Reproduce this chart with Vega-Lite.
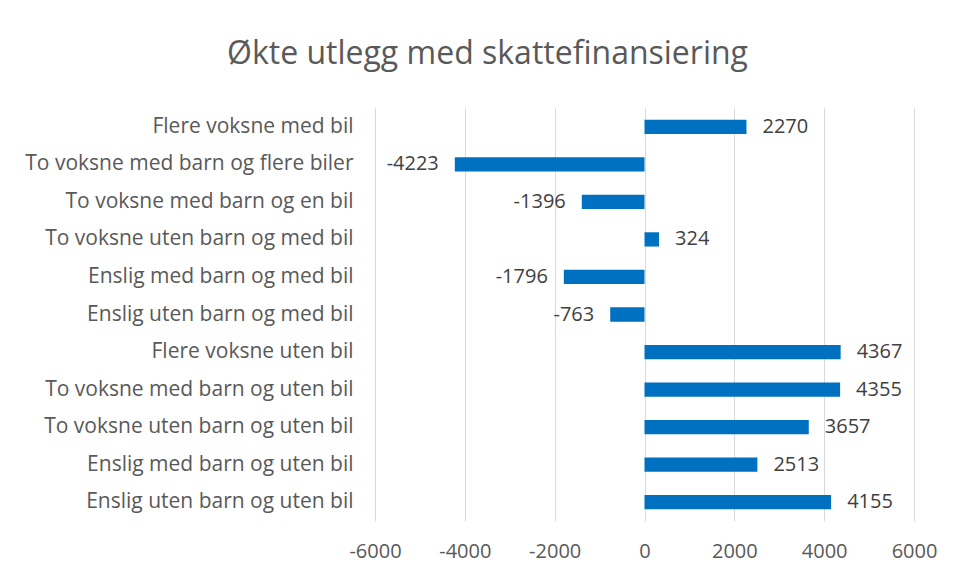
{
  "$schema": "https://vega.github.io/schema/vega-lite/v6.json",
  "width": 539,
  "height": 413,
  "autosize": {"type": "none"},
  "padding": {"left": 375, "top": 108, "right": 43, "bottom": 54},
  "background": "white",
  "title": {
    "text": "Økte utlegg med skattefinansiering",
    "font": "Open Sans",
    "fontSize": 32,
    "fontWeight": "normal",
    "color": "#595959",
    "anchor": "middle",
    "dx": -157,
    "offset": 37
  },
  "data": {
    "values": [
      {"kategori": "Flere voksne med bil", "verdi": 2270},
      {"kategori": "To voksne med barn og flere biler", "verdi": -4223},
      {"kategori": "To voksne med barn og en bil", "verdi": -1396},
      {"kategori": "To voksne uten barn og med bil", "verdi": 324},
      {"kategori": "Enslig med barn og med bil", "verdi": -1796},
      {"kategori": "Enslig uten barn og med bil", "verdi": -763},
      {"kategori": "Flere voksne uten bil", "verdi": 4367},
      {"kategori": "To voksne med barn og uten bil", "verdi": 4355},
      {"kategori": "To voksne uten barn og uten bil", "verdi": 3657},
      {"kategori": "Enslig med barn og uten bil", "verdi": 2513},
      {"kategori": "Enslig uten barn og uten bil", "verdi": 4155}
    ]
  },
  "encoding": {
    "y": {
      "field": "kategori",
      "type": "nominal",
      "sort": null,
      "scale": {"paddingInner": 0.62, "paddingOuter": 0.31},
      "axis": {
        "title": null,
        "domain": false,
        "ticks": false,
        "grid": false,
        "labelFont": "Open Sans",
        "labelFontSize": 21,
        "labelColor": "#595959",
        "labelPadding": 22,
        "labelLimit": 400
      }
    },
    "x": {
      "field": "verdi",
      "type": "quantitative",
      "scale": {"domain": [-6000, 6000], "nice": false},
      "axis": {
        "title": null,
        "values": [-6000, -4000, -2000, 0, 2000, 4000, 6000],
        "labelExpr": "'' + datum.value",
        "labelFlush": false,
        "labelOverlap": false,
        "domain": false,
        "ticks": false,
        "grid": true,
        "gridColor": "#d9d9d9",
        "gridWidth": 1,
        "labelFont": "Open Sans",
        "labelFontSize": 20,
        "labelColor": "#595959",
        "labelPadding": 20
      }
    }
  },
  "layer": [
    {"mark": {"type": "bar", "color": "#0070C0"}},
    {
      "transform": [{"filter": "datum.verdi >= 0"}],
      "mark": {"type": "text", "align": "left", "dx": 16, "font": "Open Sans", "fontSize": 20, "color": "#404040"},
      "encoding": {"text": {"field": "verdi", "type": "nominal"}}
    },
    {
      "transform": [{"filter": "datum.verdi < 0"}],
      "mark": {"type": "text", "align": "right", "dx": -16, "font": "Open Sans", "fontSize": 20, "color": "#404040"},
      "encoding": {"text": {"field": "verdi", "type": "nominal"}}
    }
  ],
  "config": {"view": {"stroke": null}}
}
